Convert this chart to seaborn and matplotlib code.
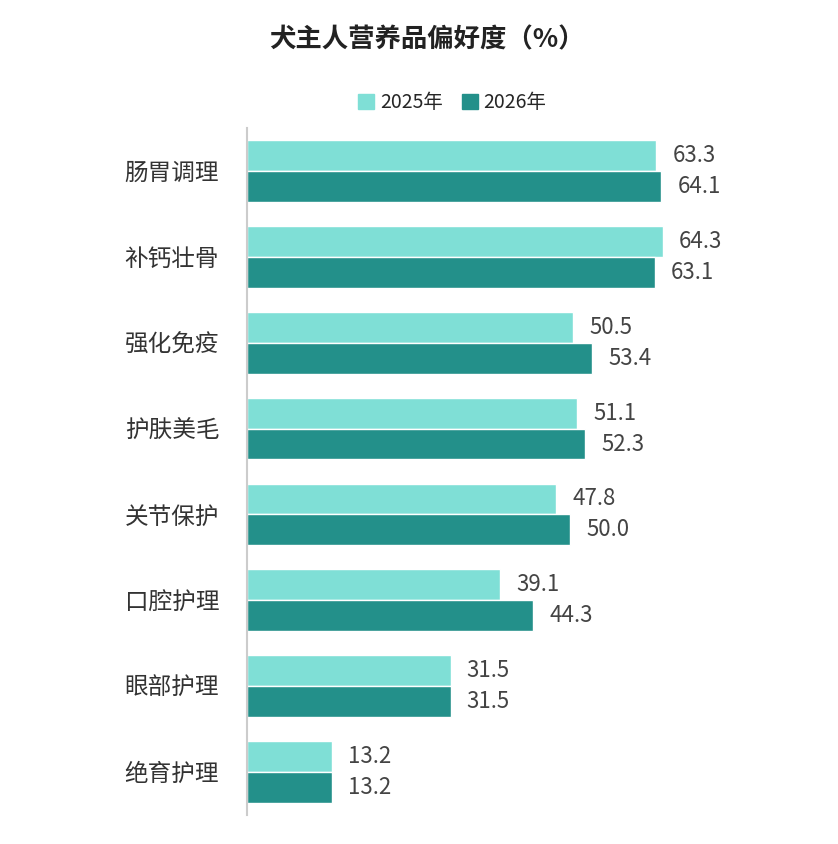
import matplotlib
matplotlib.use("Agg")
import matplotlib.pyplot as plt
import seaborn as sns
import pandas as pd

categories = ["肠胃调理", "补钙壮骨", "强化免疫", "护肤美毛", "关节保护", "口腔护理", "眼部护理", "绝育护理"]
v2025 = [63.3, 64.3, 50.5, 51.1, 47.8, 39.1, 31.5, 13.2]
v2026 = [64.1, 63.1, 53.4, 52.3, 50.0, 44.3, 31.5, 13.2]
series = ["2025年", "2026年"]
colors = ["#7FDFD6", "#23908A"]

sns.set_theme(style="white")
plt.rcParams['font.family'] = ['Noto Sans CJK SC', 'DejaVu Sans']

df = pd.DataFrame({
    "cat": categories * 2,
    "val": v2025 + v2026,
    "year": [series[0]] * len(categories) + [series[1]] * len(categories),
})

fig = plt.figure(figsize=(8.38, 8.44), dpi=100)
ax = fig.add_axes([247/838, 1-815/844, 543/838, (815-128)/844])
sns.barplot(data=df, y="cat", x="val", hue="year", palette=colors, orient="h",
            width=0.72, ax=ax, legend=False, saturation=1)
ax.set_xlim(0, 84)
ax.set_xlabel(""); ax.set_ylabel("")
ax.set_xticks([])
for s in ["top", "right", "bottom"]:
    ax.spines[s].set_visible(False)
ax.spines["left"].set_color("#CCCCCC")
ax.spines["left"].set_linewidth(1.5)
ax.tick_params(axis="y", length=0, pad=20, labelsize=17, labelcolor="#333333")

for cont in ax.containers:
    for bar in cont:
        w = bar.get_width()
        y = bar.get_y() + bar.get_height() / 2
        ax.text(w + 2.5, y, f"{w:.1f}", va="center", ha="left", fontsize=16, color="#444444")

from matplotlib.patches import Patch
handles = [Patch(color=c, label=s) for c, s in zip(colors, series)]
fig.legend(handles=handles, loc="center", bbox_to_anchor=(0.54, 1-103/844), ncol=2,
           frameon=False, fontsize=14, handlelength=0.8, handleheight=0.8,
           columnspacing=1.0, handletextpad=0.3)
fig.text(0.51, 1-40/844, "犬主人营养品偏好度（%）", ha="center", va="center",
         fontsize=19, fontweight="bold", color="#222222")
fig.savefig("out.png", dpi=100)
